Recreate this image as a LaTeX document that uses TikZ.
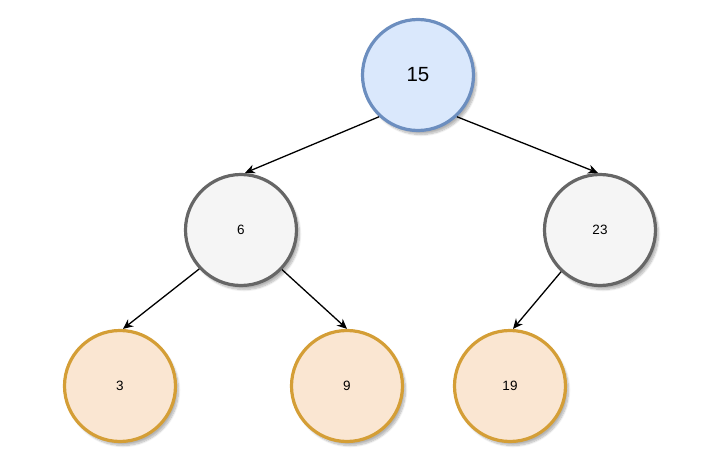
\documentclass[tikz,border=0pt]{standalone}
\usepackage{fontspec}
\setmainfont{Liberation Sans}
\usetikzlibrary{shadows.blur,arrows.meta}
\definecolor{bluefill}{HTML}{DAE8FC}
\definecolor{bluedraw}{HTML}{6C8EBF}
\definecolor{grayfill}{HTML}{F5F5F5}
\definecolor{graydraw}{HTML}{666666}
\definecolor{orangefill}{HTML}{FAE6D2}
\definecolor{orangedraw}{HTML}{D49E36}
\begin{document}
\begin{tikzpicture}[x=1pt,y=-1pt,
  tnode/.style={circle, minimum size=111pt, inner sep=0pt, line width=3.2pt,
    blur shadow={shadow xshift=3pt, shadow yshift=-4pt, shadow blur steps=8, shadow opacity=30},
    font=\fontsize{13.5}{16}\selectfont},
  rootnode/.style={tnode, fill=bluefill, draw=bluedraw, font=\fontsize{20.5}{24}\selectfont},
  midnode/.style={tnode, fill=grayfill, draw=graydraw},
  leafnode/.style={tnode, fill=orangefill, draw=orangedraw},
  edge/.style={-{Stealth[length=10pt,width=9pt]}, line width=1.3pt, black}]
\useasboundingbox (0,0) rectangle (724,460);
\node[rootnode] (r) at (418,75) {15};
\node[midnode] (a) at (241,230) {6};
\node[midnode] (b) at (600,230) {23};
\node[leafnode] (c) at (120,386) {3};
\node[leafnode] (d) at (347,386) {9};
\node[leafnode] (e) at (510,386) {19};
\draw[edge] (r.-133) -- ([xshift=4pt]a.north);
\draw[edge] (r.-47) -- ([xshift=-2pt]b.north);
\draw[edge] (a.-137) -- ([xshift=3pt]c.north);
\draw[edge] (a.-44) -- (d.north);
\draw[edge] (b.-133) -- ([xshift=3pt]e.north);
\end{tikzpicture}
\end{document}
